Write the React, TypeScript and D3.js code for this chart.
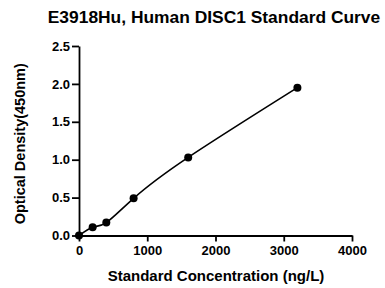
import { useRef, useEffect } from 'react';
import * as d3 from 'd3';

const concentrations = [0, 200, 400, 800, 1600, 3200];
const odValues = [0.0, 0.11, 0.17, 0.49, 1.03, 1.95];
const xTicks = [0, 1000, 2000, 3000, 4000];
const yTicks = [0, 0.5, 1.0, 1.5, 2.0, 2.5];

const title = 'E3918Hu, Human DISC1 Standard Curve';
const xTitle = 'Standard Concentration (ng/L)';
const yTitle = 'Optical Density(450nm)';

export default function App() {
  const svgRef = useRef<SVGSVGElement>(null);
  const width = 385;
  const height = 288;

  useEffect(() => {
    if (!svgRef.current) return;
    const svg = d3.select(svgRef.current);
    svg.selectAll('*').remove();

    const font = 'Liberation Sans, Arial, sans-serif';
    const x = d3.scaleLinear().domain([0, 4000]).range([79, 352]);
    const y = d3.scaleLinear().domain([0, 2.5]).range([235.5, 46]);

    svg.append('rect').attr('width', width).attr('height', height).attr('fill', '#fff');

    // title
    svg.append('text')
      .attr('x', 214)
      .attr('y', 23)
      .attr('text-anchor', 'middle')
      .attr('font-family', font)
      .attr('font-weight', 'bold')
      .attr('font-size', '17.4px')
      .text(title);

    // axes
    const xAxis = svg.append('g')
      .attr('transform', `translate(0,${y(0)})`)
      .call(d3.axisBottom(x).tickValues(xTicks).tickSize(6).tickSizeOuter(0).tickPadding(4).tickFormat(d3.format('d')));
    const yAxis = svg.append('g')
      .attr('transform', `translate(${x(0)},0)`)
      .call(d3.axisLeft(y).tickValues(yTicks).tickSize(7).tickSizeOuter(0).tickPadding(2).tickFormat(d3.format('.1f')));

    [xAxis, yAxis].forEach((a) => {
      a.selectAll('path, line').attr('stroke', '#000').attr('stroke-width', 1.8);
      a.selectAll('text')
        .attr('fill', '#000')
        .attr('font-family', font)
        .attr('font-weight', 'bold')
        .attr('font-size', '13px');
    });

    // curve
    const pts = concentrations.map((c, i) => [c, odValues[i]] as [number, number]);
    const line = d3.line<[number, number]>()
      .x((d) => x(d[0]))
      .y((d) => y(d[1]))
      .curve(d3.curveNatural);

    svg.append('path')
      .datum(pts)
      .attr('fill', 'none')
      .attr('stroke', '#000')
      .attr('stroke-width', 1.6)
      .attr('d', line);

    svg.selectAll('.pt')
      .data(pts)
      .join('circle')
      .attr('cx', (d) => x(d[0]))
      .attr('cy', (d) => y(d[1]))
      .attr('r', 4)
      .attr('fill', '#000');

    // axis titles
    svg.append('text')
      .attr('x', 216)
      .attr('y', 281)
      .attr('text-anchor', 'middle')
      .attr('font-family', font)
      .attr('font-weight', 'bold')
      .attr('font-size', '15px')
      .text(xTitle);

    svg.append('text')
      .attr('transform', `translate(25,${(y(0) + y(2.5)) / 2 + 3}) rotate(-90)`)
      .attr('text-anchor', 'middle')
      .attr('font-family', font)
      .attr('font-weight', 'bold')
      .attr('font-size', '14.5px')
      .text(yTitle);
  }, []);

  return (
    <svg
      ref={svgRef}
      width={width}
      height={height}
      style={{ position: 'absolute', left: 0, top: 0, display: 'block' }}
    />
  );
}
